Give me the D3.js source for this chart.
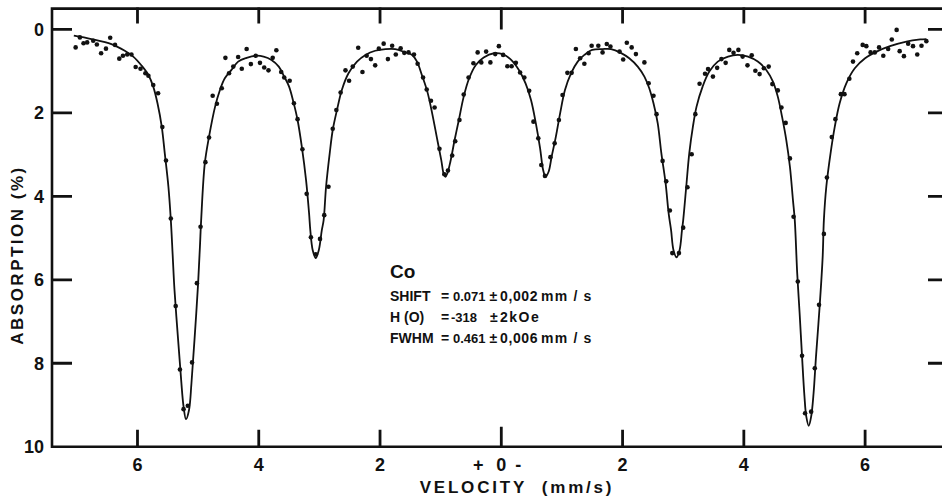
<!DOCTYPE html>
<html>
<head>
  <meta charset="utf-8">
  <title>Co spectrum</title>
  <script type="text/javascript" src="https://d3js.org/d3.v7.min.js"></script>
  <style>
    body { margin: 0; background: #fff; }
    text { font-family: "Liberation Sans", Arial, sans-serif; font-weight: bold; fill: #111; }
  </style>
</head>
<body>
  <svg width="942" height="503"></svg>
  <script>
    // measured points (velocity mm/s, absorption %)
    var obsV = [7.02, 6.95, 6.89, 6.83, 6.73, 6.67, 6.60, 6.52, 6.45, 6.37, 6.30, 6.24, 6.17, 6.10, 6.03, 5.95, 5.87, 5.82, 5.74, 5.66,
      5.59, 5.53, 5.45, 5.37, 5.30, 5.24, 5.17, 5.10, 5.02, 4.96, 4.88, 4.82, 4.76, 4.69, 4.61, 4.55, 4.49, 4.42, 4.34, 4.28,
      4.20, 4.13, 4.05, 3.98, 3.91, 3.84, 3.77, 3.71, 3.63, 3.58, 3.49, 3.42, 3.36, 3.28, 3.21, 3.14, 3.06, 2.99, 2.92, 2.85,
      2.78, 2.72, 2.65, 2.57, 2.51, 2.45, 2.36, 2.29, 2.22, 2.15, 2.08, 2.02, 1.94, 1.87, 1.80, 1.74, 1.66, 1.60, 1.53, 1.44,
      1.38, 1.29, 1.23, 1.16, 1.10, 1.02, 0.94, 0.88, 0.81, 0.76, 0.69, 0.62, 0.54, 0.46, 0.39, 0.33, 0.25, 0.18, 0.10, 0.04,
      -0.03, -0.10, -0.17, -0.24, -0.31, -0.38, -0.46, -0.53, -0.61, -0.66, -0.72, -0.81, -0.88, -0.95, -1.01, -1.09, -1.16, -1.23, -1.30, -1.37,
      -1.44, -1.49, -1.60, -1.67, -1.74, -1.80, -1.95, -2.01, -2.07, -2.15, -2.22, -2.36, -2.43, -2.51, -2.56, -2.66, -2.72, -2.78, -2.82, -2.93,
      -3.00, -3.07, -3.14, -3.20, -3.27, -3.36, -3.41, -3.49, -3.56, -3.63, -3.70, -3.76, -3.83, -3.91, -3.98, -4.06, -4.13, -4.19, -4.26, -4.33,
      -4.41, -4.47, -4.56, -4.62, -4.69, -4.76, -4.82, -4.89, -4.96, -5.01, -5.11, -5.17, -5.24, -5.32, -5.37, -5.45, -5.51, -5.60, -5.66, -5.74,
      -5.80, -5.87, -5.96, -6.02, -6.09, -6.16, -6.23, -6.30, -6.38, -6.44, -6.52, -6.57, -6.64, -6.71, -6.79, -6.86, -6.93, -7.01];
    var obsA = [0.43, 0.19, 0.33, 0.31, 0.27, 0.36, 0.57, 0.46, 0.20, 0.37, 0.70, 0.63, 0.60, 0.60, 0.90, 0.94, 1.05, 1.11, 1.33, 1.53,
      2.34, 3.14, 4.53, 6.63, 8.15, 9.10, 9.02, 7.98, 6.08, 4.73, 3.18, 2.59, 1.59, 1.78, 1.41, 0.68, 1.05, 0.89, 0.66, 0.94,
      0.47, 0.83, 0.63, 0.80, 0.91, 0.98, 0.68, 0.50, 1.02, 1.15, 1.23, 1.77, 2.15, 2.87, 3.94, 4.98, 5.39, 5.02, 4.45, 3.77,
      2.38, 1.93, 1.51, 0.98, 1.23, 0.89, 0.44, 1.02, 0.63, 0.71, 0.86, 0.46, 0.34, 0.71, 0.39, 0.60, 0.45, 0.56, 0.55, 0.60,
      0.82, 1.15, 1.44, 1.71, 1.87, 2.86, 3.47, 3.38, 3.02, 2.68, 2.17, 1.56, 1.15, 0.81, 0.55, 0.79, 0.53, 0.79, 0.59, 0.40,
      0.61, 0.88, 0.88, 0.80, 1.03, 1.15, 1.47, 2.21, 2.61, 3.25, 3.51, 3.06, 2.73, 2.17, 1.57, 1.04, 1.04, 0.47, 0.69, 0.82,
      0.57, 0.39, 0.39, 0.55, 0.35, 0.41, 0.53, 0.72, 0.32, 0.43, 0.59, 0.79, 1.29, 1.59, 2.03, 3.15, 3.64, 4.34, 5.36, 5.36,
      4.75, 3.78, 2.99, 2.03, 1.30, 1.06, 0.95, 1.13, 0.92, 0.71, 0.80, 0.49, 0.56, 0.49, 0.65, 0.86, 0.62, 0.99, 1.07, 0.93,
      0.89, 1.31, 1.46, 1.87, 2.24, 3.09, 4.49, 6.04, 7.82, 9.20, 9.16, 8.12, 6.60, 4.90, 3.55, 2.58, 2.15, 1.55, 1.55, 1.18,
      0.77, 0.57, 0.37, 0.40, 0.55, 0.55, 0.43, 0.63, 0.47, 0.24, 0.01, 0.52, 0.64, 0.34, 0.40, 0.60, 0.39, 0.28];

    // fitted curve
    var fitV = [7.05, 6.76, 6.43, 6.21, 6.07, 5.93, 5.82, 5.74, 5.67, 5.60, 5.55, 5.49, 5.45, 5.42, 5.39, 5.33, 5.28, 5.24, 5.20, 5.15,
      5.11, 5.06, 5.00, 4.97, 4.95, 4.89, 4.82, 4.72, 4.64, 4.56, 4.45, 4.34, 4.20, 4.05, 3.92, 3.79, 3.67, 3.58, 3.50, 3.43,
      3.36, 3.29, 3.22, 3.17, 3.15, 3.11, 3.06, 3.01, 2.96, 2.93, 2.89, 2.83, 2.78, 2.71, 2.63, 2.52, 2.38, 2.24, 2.08, 1.91,
      1.75, 1.58, 1.47, 1.39, 1.31, 1.22, 1.14, 1.06, 0.99, 0.95, 0.92, 0.89, 0.84, 0.77, 0.70, 0.62, 0.53, 0.42, 0.29, 0.12,
      -0.02, -0.15, -0.29, -0.40, -0.49, -0.57, -0.64, -0.69, -0.73, -0.78, -0.83, -0.90, -0.97, -1.05, -1.15, -1.26, -1.37, -1.50, -1.67, -1.81,
      -1.97, -2.11, -2.25, -2.36, -2.44, -2.51, -2.58, -2.64, -2.71, -2.76, -2.80, -2.84, -2.89, -2.94, -2.98, -3.00, -3.05, -3.10, -3.16, -3.22,
      -3.32, -3.43, -3.57, -3.74, -3.90, -4.07, -4.23, -4.37, -4.48, -4.56, -4.63, -4.70, -4.76, -4.81, -4.84, -4.88, -4.92, -4.96, -5.00, -5.03,
      -5.07, -5.11, -5.15, -5.19, -5.25, -5.30, -5.32, -5.36, -5.43, -5.50, -5.58, -5.69, -5.83, -6.00, -6.19, -6.41, -6.68, -6.91, -7.01];
    var fitA = [0.15, 0.23, 0.35, 0.51, 0.65, 0.87, 1.09, 1.37, 1.77, 2.33, 2.97, 3.77, 4.57, 5.40, 6.24, 7.44, 8.40, 9.04, 9.34, 9.12,
      8.48, 7.44, 6.08, 5.20, 4.57, 3.21, 2.57, 1.85, 1.45, 1.17, 0.97, 0.77, 0.68, 0.63, 0.65, 0.73, 0.89, 1.13, 1.37, 1.73,
      2.17, 2.81, 3.61, 4.41, 4.81, 5.29, 5.48, 5.29, 4.81, 4.57, 3.77, 2.97, 2.41, 1.93, 1.45, 1.05, 0.77, 0.61, 0.51, 0.47,
      0.47, 0.55, 0.61, 0.77, 1.09, 1.49, 2.01, 2.61, 3.13, 3.46, 3.53, 3.45, 3.17, 2.65, 2.17, 1.61, 1.17, 0.85, 0.67, 0.57,
      0.59, 0.71, 0.97, 1.29, 1.69, 2.25, 2.85, 3.37, 3.53, 3.41, 3.05, 2.57, 2.01, 1.45, 1.05, 0.77, 0.61, 0.49, 0.47, 0.47,
      0.56, 0.69, 0.89, 1.13, 1.41, 1.77, 2.25, 2.97, 3.69, 4.41, 4.81, 5.29, 5.46, 5.29, 4.81, 4.57, 3.77, 2.97, 2.33, 1.85,
      1.37, 1.01, 0.77, 0.65, 0.61, 0.65, 0.77, 0.97, 1.25, 1.61, 2.09, 2.65, 3.29, 4.09, 4.57, 5.84, 6.80, 7.84, 8.80, 9.28,
      9.50, 9.28, 8.72, 7.84, 6.64, 5.45, 4.57, 3.77, 2.97, 2.33, 1.77, 1.29, 0.93, 0.69, 0.53, 0.40, 0.29, 0.24, 0.23];

    var xTicks = [6, 4, 2, 0, -2, -4, -6];
    var yTicks = [0, 2, 4, 6, 8, 10];

    var infoLabels = ["SHIFT", "H (O)", "FWHM"];
    var infoVal = ["0.071", "-318", "0.461"];
    var infoErr = ["0,002", "2kOe", "0,006"];
    var infoUnit = ["mm / s", "", "mm / s"];

    var svg = d3.select("svg");

    // left side is positive velocity
    var x = d3.scaleLinear().domain([7.4, -7.4]).range([52.6, 950]);
    var y = d3.scaleLinear().domain([-0.5, 10]).range([8.6, 446.7]);

    var pLeft = 52, pRight = 950, pTop = 8.6, pBottom = 446.7;

    // all ticks as one path
    var tickPath = "";
    xTicks.forEach(function (d) {
      tickPath += "M" + x(d) + "," + pBottom + "V" + (pBottom - (d === 0 ? 20 : 17));
      tickPath += "M" + x(d) + "," + (pTop - 1) + "V" + (pTop + (d === 0 ? 21 : 15));
    });
    yTicks.slice(0, 5).forEach(function (d) {
      tickPath += "M" + pLeft + "," + y(d) + "H" + (pLeft + 20);
      tickPath += "M928," + y(d) + "H942";
    });
    svg.append("path")
      .attr("d", tickPath)
      .attr("fill", "none")
      .attr("stroke", "#111")
      .attr("stroke-width", 2.8);

    // frame
    svg.append("path")
      .attr("d", "M" + pRight + "," + pTop + "H" + pLeft + "V" + pBottom + "H" + pRight)
      .attr("fill", "none")
      .attr("stroke", "#111")
      .attr("stroke-width", 2.6);

    // tick labels
    svg.append("g").selectAll("text")
      .data(xTicks.filter(function (d) { return d !== 0; })).enter().append("text")
      .attr("x", function (d) { return x(d); })
      .attr("y", 471)
      .attr("text-anchor", "middle")
      .attr("font-size", 18)
      .text(function (d) { return Math.abs(d); });

    var zero = svg.append("g").attr("font-size", 18).attr("text-anchor", "middle");
    zero.append("text").attr("x", x(0) - 23).attr("y", 471).text("+");
    zero.append("text").attr("x", x(0)).attr("y", 471).text("0");
    zero.append("text").attr("x", x(0) + 17).attr("y", 471).text("-");

    svg.append("g").selectAll("text")
      .data(yTicks).enter().append("text")
      .attr("x", 44)
      .attr("y", function (d) { return y(d) + 6.5; })
      .attr("text-anchor", "end")
      .attr("font-size", 18)
      .text(function (d) { return d; });

    // axis titles
    svg.append("text")
      .attr("x", 517).attr("y", 493)
      .attr("text-anchor", "middle")
      .attr("font-size", 17)
      .attr("letter-spacing", 2.8)
      .attr("xml:space", "preserve")
      .text("VELOCITY  (mm/s)");

    svg.append("text")
      .attr("transform", "translate(23,255) rotate(-90)")
      .attr("text-anchor", "middle")
      .attr("font-size", 17)
      .attr("letter-spacing", 2.5)
      .text("ABSORPTION (%)");

    // fitted curve
    var line = d3.line()
      .x(function (d) { return x(d[0]); })
      .y(function (d) { return y(d[1]); })
      .curve(d3.curveCatmullRom.alpha(0.5));

    svg.append("path")
      .datum(fitV.map(function (v, i) { return [v, fitA[i]]; }))
      .attr("d", line)
      .attr("fill", "none")
      .attr("stroke", "#111")
      .attr("stroke-width", 1.8);

    // data points
    svg.append("g").selectAll("circle")
      .data(obsV.map(function (v, i) { return [v, obsA[i]]; }))
      .enter().append("circle")
      .attr("cx", function (d) { return x(d[0]); })
      .attr("cy", function (d) { return y(d[1]); })
      .attr("r", 2.3)
      .attr("fill", "#111");

    // parameter block
    var info = svg.append("g");
    info.append("text").attr("x", 390).attr("y", 278).attr("font-size", 19).text("Co");
    var rows = info.selectAll("g")
      .data(infoLabels).enter().append("g")
      .attr("font-size", 14)
      .attr("transform", function (d, i) { return "translate(0," + (301 + i * 21) + ")"; });
    rows.append("text").attr("x", 390).text(function (d) { return d; });
    rows.append("text").attr("x", 441).text("=");
    rows.append("text").attr("x", function (d, i) { return i === 1 ? 451 : 453; })
      .attr("font-size", 13)
      .text(function (d, i) { return infoVal[i]; });
    rows.append("text").attr("x", function (d, i) { return i === 1 ? 490 : 489.5; })
      .text("±");
    rows.append("text").attr("x", function (d, i) { return i === 1 ? 500 : 500; })
      .attr("letter-spacing", function (d, i) { return i === 1 ? 1.5 : 0.6; })
      .text(function (d, i) { return infoErr[i]; });
    rows.append("text").attr("x", 541)
      .attr("xml:space", "preserve")
      .attr("letter-spacing", 1.2)
      .text(function (d, i) { return infoUnit[i]; });
  </script>
</body>
</html>
